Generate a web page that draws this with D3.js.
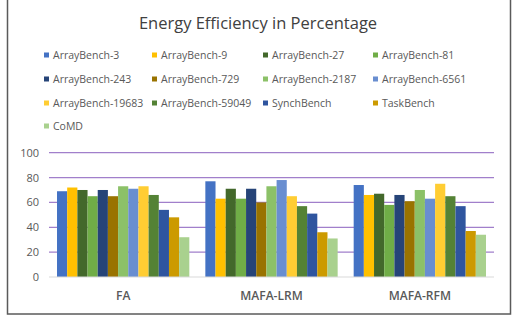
<!DOCTYPE html>
<html>
<head>
<meta charset="utf-8">
<script src="https://cdn.jsdelivr.net/npm/d3@7"></script>
<style>
  body { margin: 0; background: #fff; }
  text { font-family: "Open Sans", "Liberation Sans", sans-serif; }
</style>
</head>
<body>
<div id="container"></div>
<script>
/** DATA */
const categories = ["FA", "MAFA-LRM", "MAFA-RFM"];
const seriesNames = ["ArrayBench-3", "ArrayBench-9", "ArrayBench-27", "ArrayBench-81",
  "ArrayBench-243", "ArrayBench-729", "ArrayBench-2187", "ArrayBench-6561",
  "ArrayBench-19683", "ArrayBench-59049", "SynchBench", "TaskBench", "CoMD"];
const faValues   = [69, 72, 70, 65, 70, 65, 73, 71, 73, 66, 54, 48, 32];
const lrmValues  = [77, 63, 71, 63, 71, 60, 73, 78, 65, 57, 51, 36, 31];
const rfmValues  = [74, 66, 67, 58, 66, 61, 70, 63, 75, 65, 57, 37, 34];
const yTicks = [0, 20, 40, 60, 80, 100];
const colors = ["#4472C4", "#FFC000", "#43682B", "#70AD47", "#264478", "#997300",
  "#8CC168", "#698ED0", "#FFCD33", "#548235", "#2F559F", "#CC9A00", "#A9D18E"];

const values = [faValues, lrmValues, rfmValues];

/** LAYOUT */
const width = 515, height = 320;
const plot = { left: 49, right: 494, top: 152.7, bottom: 277 };

const svg = d3.select("#container").append("svg")
  .attr("width", width).attr("height", height);

// border
svg.append("rect")
  .attr("x", 7.5).attr("y", -5).attr("width", 503).attr("height", 319)
  .attr("fill", "none").attr("stroke", "#5a5a5a").attr("stroke-width", 1.5);

// title
svg.append("text")
  .attr("x", 258).attr("y", 29)
  .attr("text-anchor", "middle")
  .attr("font-size", 16.5)
  .attr("fill", "#404040")
  .text("Energy Efficiency in Percentage");

// legend
const legendCols = [44, 152, 263, 373];
const legendRows = [55, 79, 103, 126];
const legend = svg.append("g").selectAll("g")
  .data(seriesNames)
  .join("g")
  .attr("transform", (d, i) => `translate(${legendCols[i % 4]},${legendRows[Math.floor(i / 4)]})`);
legend.append("rect")
  .attr("x", 0).attr("y", -2.5).attr("width", 5).attr("height", 5)
  .attr("fill", (d, i) => colors[i]);
legend.append("text")
  .attr("x", 9).attr("y", 4)
  .attr("font-size", 10.5)
  .attr("fill", "#595959")
  .text(d => d);

// scales
const x = d3.scaleBand().domain(categories)
  .range([plot.left, plot.right])
  .paddingInner(0.108).paddingOuter(0.054);
const xs = d3.scaleBand().domain(d3.range(seriesNames.length))
  .range([0, x.bandwidth()]);
const y = d3.scaleLinear().domain([0, 100]).range([plot.bottom, plot.top]);

// gridlines
svg.append("g").selectAll("line")
  .data(yTicks.filter(d => d > 0))
  .join("line")
  .attr("x1", plot.left).attr("x2", plot.right)
  .attr("y1", d => y(d)).attr("y2", d => y(d))
  .attr("stroke", "#A17FCB").attr("stroke-width", 1.2);

// y axis labels
const yAxis = svg.append("g")
  .attr("transform", `translate(${plot.left - 10},0)`)
  .call(d3.axisLeft(y).tickValues(yTicks).tickSize(0).tickPadding(0));
yAxis.select(".domain").remove();
yAxis.selectAll("text")
  .attr("font-size", 11)
  .attr("fill", "#595959")
  .style("font-family", "'Open Sans', 'Liberation Sans', sans-serif");

// bars
svg.append("g").selectAll("g")
  .data(categories)
  .join("g")
  .attr("transform", d => `translate(${x(d)},0)`)
  .selectAll("rect")
  .data((d, ci) => values[ci].map((v, si) => ({ v, si })))
  .join("rect")
  .attr("x", d => xs(d.si))
  .attr("width", xs.bandwidth())
  .attr("y", d => y(d.v))
  .attr("height", d => y(0) - y(d.v))
  .attr("fill", d => colors[d.si]);

// baseline
svg.append("line")
  .attr("x1", plot.left).attr("x2", plot.right)
  .attr("y1", y(0)).attr("y2", y(0))
  .attr("stroke", "#D9D9D9").attr("stroke-width", 1);

// category labels
const xAxis = svg.append("g")
  .attr("transform", `translate(0,${y(0)})`)
  .call(d3.axisBottom(x).tickSize(0).tickPadding(14));
xAxis.select(".domain").remove();
xAxis.selectAll("text")
  .attr("font-size", 12)
  .attr("font-weight", 600)
  .attr("fill", "#595959")
  .style("font-family", "'Open Sans', 'Liberation Sans', sans-serif");
</script>
</body>
</html>
